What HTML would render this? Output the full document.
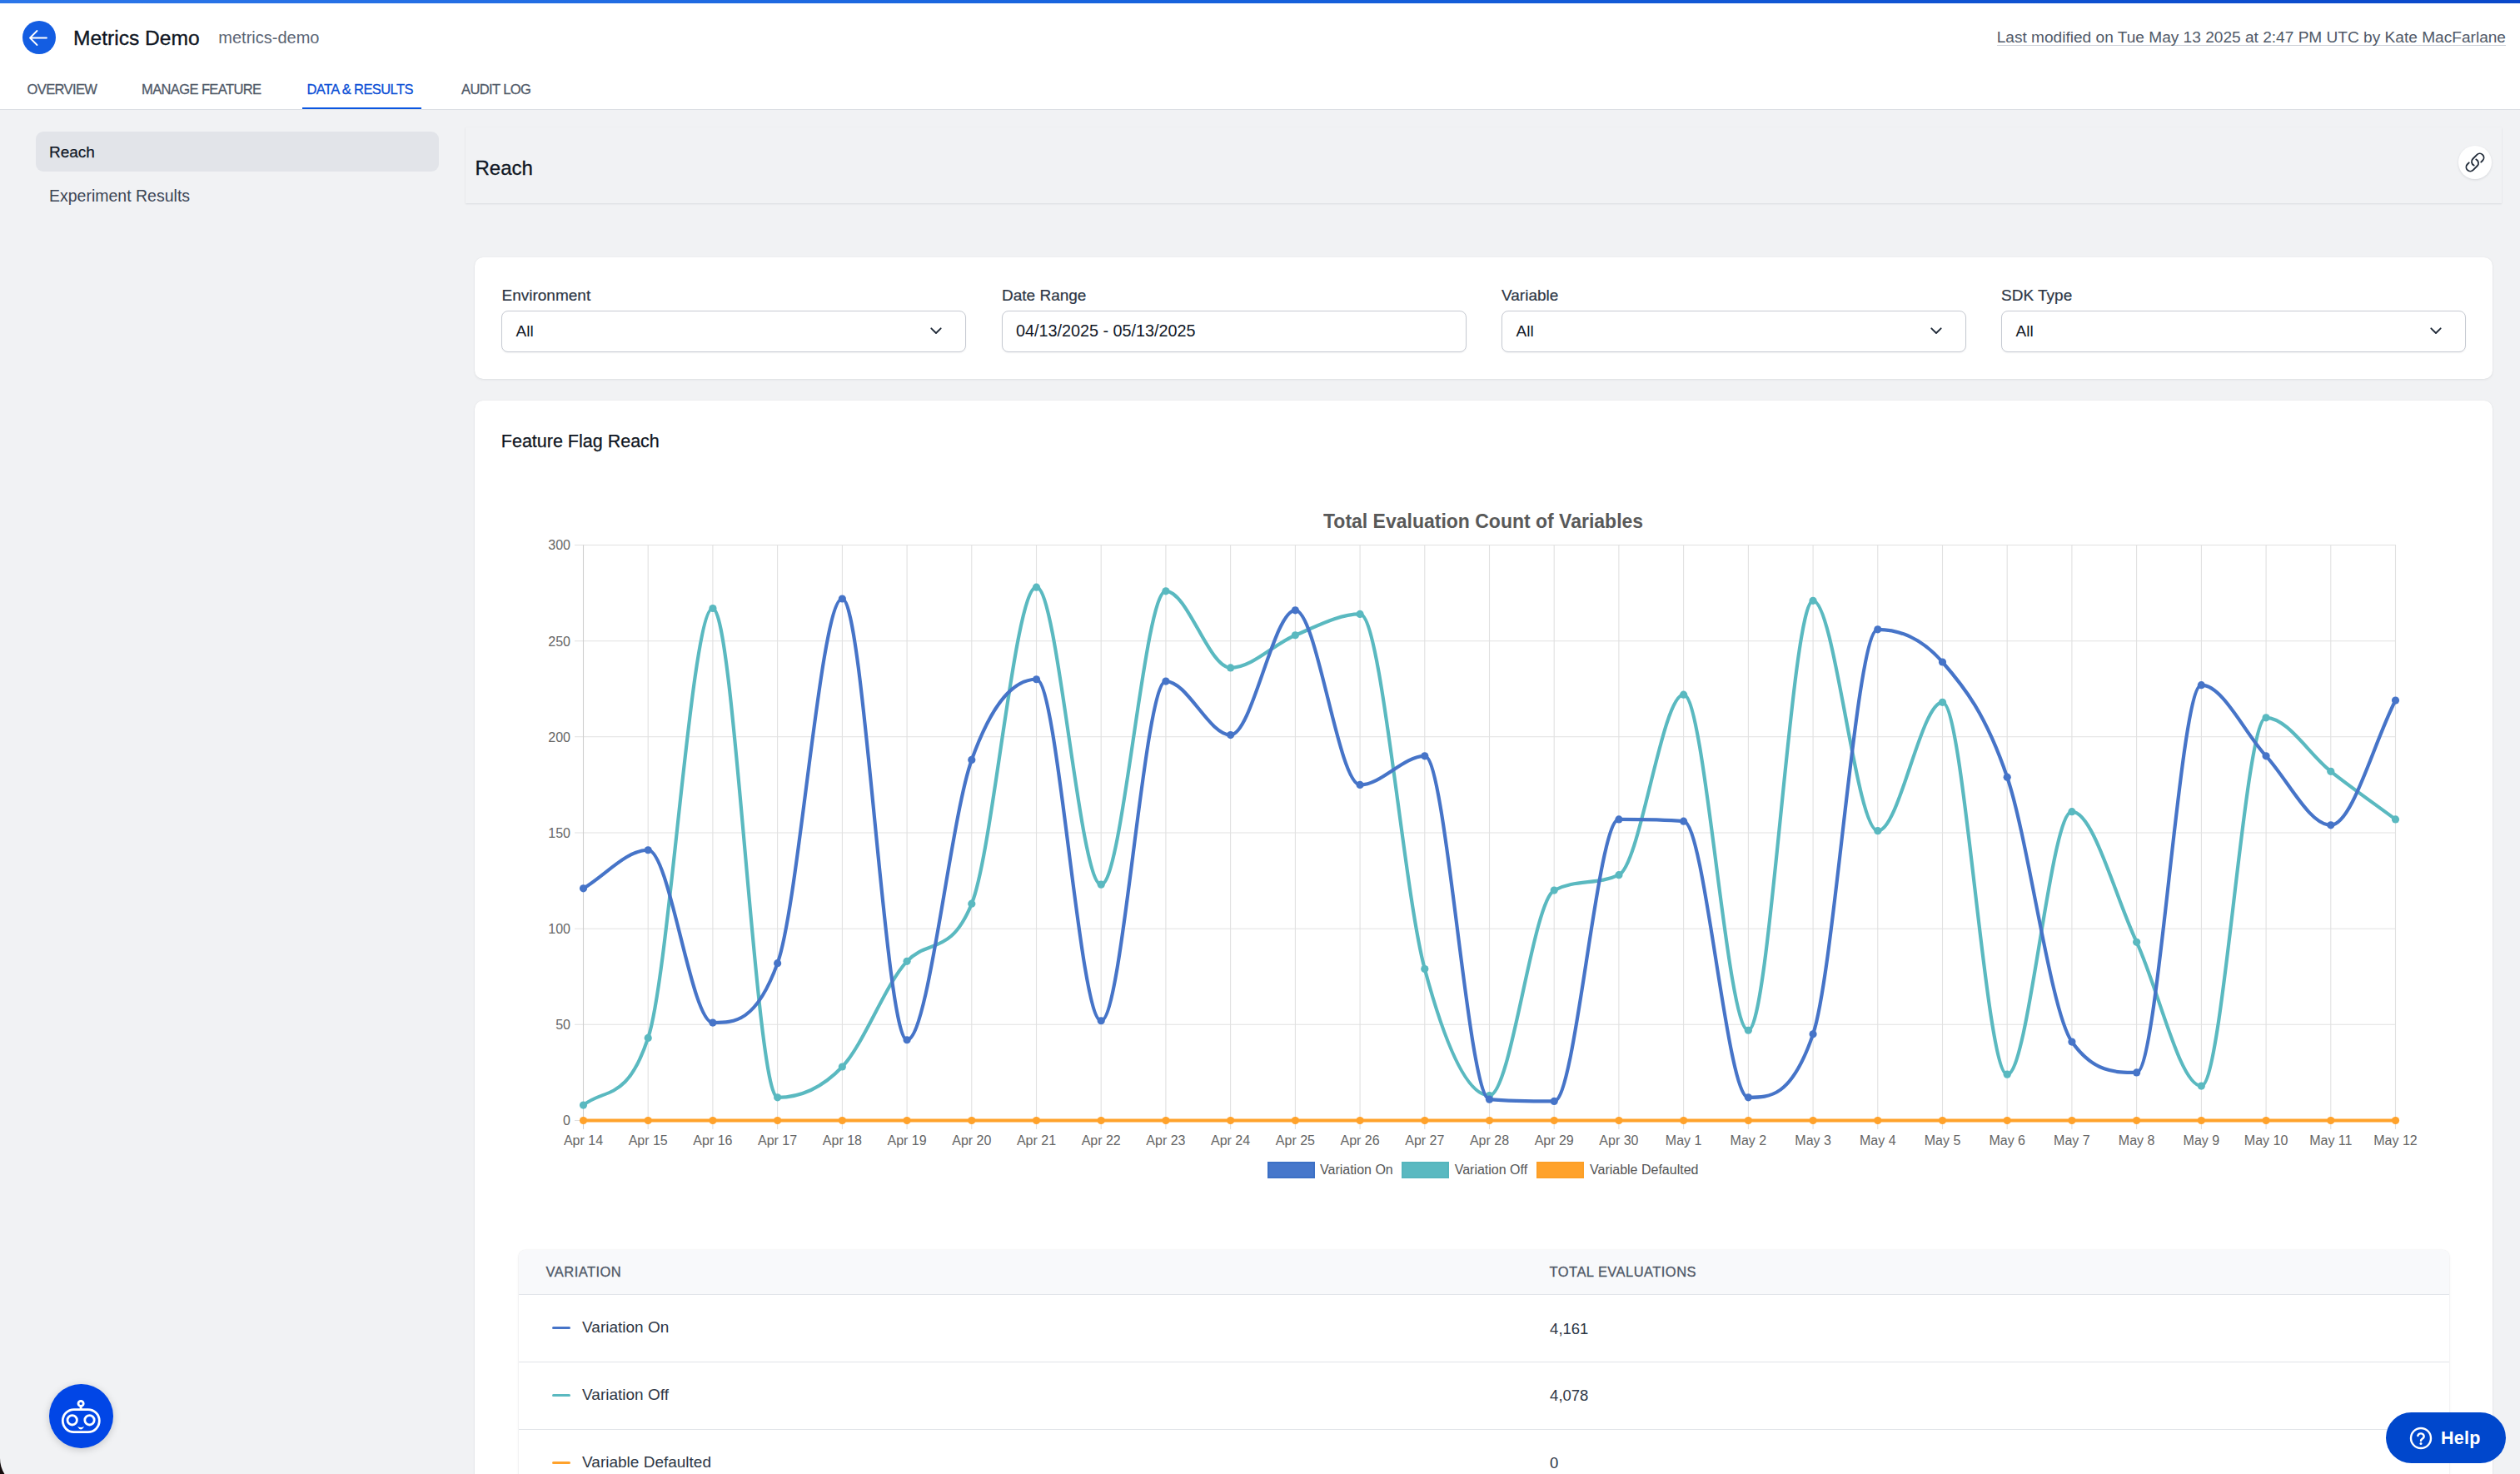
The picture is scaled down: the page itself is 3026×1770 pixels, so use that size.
<!DOCTYPE html>
<html><head><meta charset="utf-8"><title>Metrics Demo - Data &amp; Results</title>
<style>
*{box-sizing:border-box;margin:0;padding:0}
html,body{width:3026px;height:1770px;overflow:hidden}
body{position:relative;background:#f1f2f4;font-family:"Liberation Sans",sans-serif;color:#111827}
.a{position:absolute}
.t{position:absolute;line-height:1;white-space:nowrap}
#hdr{position:absolute;left:0;top:0;width:3026px;height:132px;background:#fff;border-bottom:1px solid #dcdfe4}
#topbar{position:absolute;left:0;top:0;width:3026px;height:4px;background:linear-gradient(90deg,#2c76e9 0%,#1763dd 45%,#0a48ca 100%)}
#back{position:absolute;left:27px;top:25px;width:40px;height:40px;border-radius:50%;background:#135de2}
.tab{position:absolute;top:98.6px;font-size:16.5px;letter-spacing:-.6px;line-height:1;color:#4f5968;white-space:nowrap;-webkit-text-stroke:.3px #4f5968}
.tab.on{color:#0b4fd6;-webkit-text-stroke:.3px #0b4fd6}
#tabline{position:absolute;left:363px;top:129px;width:143px;height:2px;background:#0b56e0}
#navact{position:absolute;left:43px;top:158px;width:484px;height:48px;border-radius:9px;background:#e2e4e9}
#reachp{position:absolute;left:559px;top:153px;width:2445px;height:91px;background:#f1f2f4;box-shadow:0 1px 2px rgba(16,24,40,.09),0 0 1px rgba(16,24,40,.04)}
#linkbtn{position:absolute;left:2952px;top:175px;width:40px;height:40px;border-radius:50%;background:#fff;box-shadow:0 1px 3px rgba(16,24,40,.12)}
.card{position:absolute;background:#fff;border-radius:10px;box-shadow:0 1px 3px rgba(16,24,40,.08),0 0 1px rgba(16,24,40,.08)}
.lbl{position:absolute;top:345px;font-size:19px;line-height:1;color:#2d3645;white-space:nowrap;-webkit-text-stroke:.2px #2d3645}
.sel{position:absolute;top:373px;width:558px;height:50px;border:1px solid #c6cad2;border-radius:8px;background:#fff;box-shadow:0 1px 2px rgba(16,24,40,.05)}
.sel .v{position:absolute;left:16.5px;top:14px;font-size:19px;line-height:1;color:#111827;white-space:nowrap}
.sel svg{position:absolute;right:26.7px;top:17.75px}
.chart{position:absolute;left:0;top:0;pointer-events:none}
#tbl{position:absolute;left:622.6px;top:1501px;width:2318px;height:300px;border-radius:8px 8px 0 0;background:#fff;overflow:hidden;box-shadow:0 1px 3px rgba(16,24,40,.10),0 0 1px rgba(16,24,40,.12)}
#thead{position:absolute;left:0;top:0;width:100%;height:54px;background:#f8f9fb;border-bottom:1px solid #e1e4e9}
.th{position:absolute;top:18.3px;font-size:16.5px;letter-spacing:.45px;line-height:1;color:#4e5766;white-space:nowrap;-webkit-text-stroke:.3px #4e5766}
.row{position:absolute;left:0;width:100%;height:81px;border-bottom:1px solid #e1e4e9}
.row .nm{position:absolute;left:76.5px;font-size:19px;line-height:1;color:#2d3645;white-space:nowrap}
.row .num{position:absolute;left:1238.5px;font-size:18.5px;line-height:1;color:#2d3645;white-space:nowrap}
.row .mk{position:absolute;left:40.3px;width:22px;height:3px;border-radius:1.5px}
#help{position:absolute;left:2865px;top:1696px;width:144px;height:61px;border-radius:30.5px;background:#0047cc}
#bot{position:absolute;left:59.3px;top:1662px;width:76.6px;height:76.6px;border-radius:50%;background:#0146e6;box-shadow:0 2px 10px rgba(0,0,0,.18)}
</style></head>
<body>
<div id="hdr">
  <div id="topbar"></div>
  <div id="back"><svg width="40" height="40" viewBox="0 0 40 40"><path d="M29 20.5H9.5M17.5 12L9 20.5L17.5 29" fill="none" stroke="#fff" stroke-width="1.8" stroke-linecap="round" stroke-linejoin="round"/></svg></div>
  <div class="t" style="left:88px;top:34.3px;font-size:24.6px;color:#0f1623;-webkit-text-stroke:.35px #0f1623">Metrics Demo</div>
  <div class="t" style="left:262.3px;top:35px;font-size:20px;color:#5b6575">metrics-demo</div>
  <div class="t" id="lastmod" style="right:17px;top:35px;font-size:19.1px;color:#4f5968;border-bottom:1px solid #cdd1d8;padding-bottom:0">Last modified on Tue May 13 2025 at 2:47 PM UTC by Kate MacFarlane</div>
  <div class="tab" style="left:32.5px">OVERVIEW</div>
  <div class="tab" style="left:170px">MANAGE FEATURE</div>
  <div class="tab on" style="left:368.5px">DATA &amp; RESULTS</div>
  <div class="tab" style="left:554px">AUDIT LOG</div>
  <div id="tabline"></div>
</div>

<div id="navact"></div>
<div class="t" style="left:59px;top:173.1px;font-size:19px;color:#111827;-webkit-text-stroke:.25px #111827">Reach</div>
<div class="t" style="left:59px;top:225.8px;font-size:19.5px;color:#3c4555">Experiment Results</div>

<div id="reachp"></div>
<div class="t" style="left:570.5px;top:189.7px;font-size:24px;color:#0f1623;-webkit-text-stroke:.3px #0f1623">Reach</div>
<div id="linkbtn"><svg class="a" style="left:7px;top:6.8px" width="26" height="26" viewBox="0 0 24 24"><path d="M13.19 8.688a4.5 4.5 0 0 1 1.242 7.244l-4.5 4.5a4.5 4.5 0 0 1-6.364-6.364l1.757-1.757m13.35-.622 1.757-1.757a4.5 4.5 0 0 0-6.364-6.364l-4.5 4.5a4.5 4.5 0 0 0 1.242 7.244" fill="none" stroke="#222c3a" stroke-width="1.7" stroke-linecap="round" stroke-linejoin="round"/></svg></div>

<div class="card" style="left:570px;top:309px;width:2423px;height:146px"></div>
<div class="lbl" style="left:602.5px">Environment</div>
<div class="lbl" style="left:1203px">Date Range</div>
<div class="lbl" style="left:1803px">Variable</div>
<div class="lbl" style="left:2403px">SDK Type</div>
<div class="sel" style="left:602px"><div class="v">All</div><svg width="16" height="11" viewBox="0 0 16 11"><path d="M2.3 2.3L8 8L13.7 2.3" fill="none" stroke="#1f2937" stroke-width="1.85" stroke-linecap="round" stroke-linejoin="round"/></svg></div>
<div class="sel" style="left:1202.5px"><div class="v" style="font-size:19.8px;top:14.3px">04/13/2025 - 05/13/2025</div></div>
<div class="sel" style="left:1803px"><div class="v">All</div><svg width="16" height="11" viewBox="0 0 16 11"><path d="M2.3 2.3L8 8L13.7 2.3" fill="none" stroke="#1f2937" stroke-width="1.85" stroke-linecap="round" stroke-linejoin="round"/></svg></div>
<div class="sel" style="left:2403px"><div class="v">All</div><svg width="16" height="11" viewBox="0 0 16 11"><path d="M2.3 2.3L8 8L13.7 2.3" fill="none" stroke="#1f2937" stroke-width="1.85" stroke-linecap="round" stroke-linejoin="round"/></svg></div>

<div class="card" style="left:570px;top:481px;width:2423px;height:1400px"></div>
<div class="t" style="left:601.8px;top:519.8px;font-size:21.5px;color:#0f1623;-webkit-text-stroke:.25px #0f1623">Feature Flag Reach</div>
<div class="t" style="left:1588.8px;top:613.7px;font-size:24px;font-weight:bold;color:#595959;transform:scaleX(.958);transform-origin:0 0">Total Evaluation Count of Variables</div>

<svg class="chart" width="3026" height="1770" viewBox="0 0 3026 1770">
<g><line x1="690" y1="1345.5" x2="2877.0" y2="1345.5" stroke="#e1e1e1" stroke-width="1.1"/><line x1="690" y1="1230.3" x2="2877.0" y2="1230.3" stroke="#e1e1e1" stroke-width="1.1"/><line x1="690" y1="1115.2" x2="2877.0" y2="1115.2" stroke="#e1e1e1" stroke-width="1.1"/><line x1="690" y1="1000.0" x2="2877.0" y2="1000.0" stroke="#e1e1e1" stroke-width="1.1"/><line x1="690" y1="884.8" x2="2877.0" y2="884.8" stroke="#e1e1e1" stroke-width="1.1"/><line x1="690" y1="769.7" x2="2877.0" y2="769.7" stroke="#e1e1e1" stroke-width="1.1"/><line x1="690" y1="654.5" x2="2877.0" y2="654.5" stroke="#e1e1e1" stroke-width="1.1"/><line x1="700.5" y1="654.5" x2="700.5" y2="1356" stroke="#cfcfcf" stroke-width="1.1"/><line x1="778.2" y1="654.5" x2="778.2" y2="1356" stroke="#e1e1e1" stroke-width="1.1"/><line x1="855.9" y1="654.5" x2="855.9" y2="1356" stroke="#e1e1e1" stroke-width="1.1"/><line x1="933.6" y1="654.5" x2="933.6" y2="1356" stroke="#e1e1e1" stroke-width="1.1"/><line x1="1011.4" y1="654.5" x2="1011.4" y2="1356" stroke="#e1e1e1" stroke-width="1.1"/><line x1="1089.1" y1="654.5" x2="1089.1" y2="1356" stroke="#e1e1e1" stroke-width="1.1"/><line x1="1166.8" y1="654.5" x2="1166.8" y2="1356" stroke="#e1e1e1" stroke-width="1.1"/><line x1="1244.5" y1="654.5" x2="1244.5" y2="1356" stroke="#e1e1e1" stroke-width="1.1"/><line x1="1322.2" y1="654.5" x2="1322.2" y2="1356" stroke="#e1e1e1" stroke-width="1.1"/><line x1="1399.9" y1="654.5" x2="1399.9" y2="1356" stroke="#e1e1e1" stroke-width="1.1"/><line x1="1477.6" y1="654.5" x2="1477.6" y2="1356" stroke="#e1e1e1" stroke-width="1.1"/><line x1="1555.4" y1="654.5" x2="1555.4" y2="1356" stroke="#e1e1e1" stroke-width="1.1"/><line x1="1633.1" y1="654.5" x2="1633.1" y2="1356" stroke="#e1e1e1" stroke-width="1.1"/><line x1="1710.8" y1="654.5" x2="1710.8" y2="1356" stroke="#e1e1e1" stroke-width="1.1"/><line x1="1788.5" y1="654.5" x2="1788.5" y2="1356" stroke="#e1e1e1" stroke-width="1.1"/><line x1="1866.2" y1="654.5" x2="1866.2" y2="1356" stroke="#e1e1e1" stroke-width="1.1"/><line x1="1943.9" y1="654.5" x2="1943.9" y2="1356" stroke="#e1e1e1" stroke-width="1.1"/><line x1="2021.6" y1="654.5" x2="2021.6" y2="1356" stroke="#e1e1e1" stroke-width="1.1"/><line x1="2099.4" y1="654.5" x2="2099.4" y2="1356" stroke="#e1e1e1" stroke-width="1.1"/><line x1="2177.1" y1="654.5" x2="2177.1" y2="1356" stroke="#e1e1e1" stroke-width="1.1"/><line x1="2254.8" y1="654.5" x2="2254.8" y2="1356" stroke="#e1e1e1" stroke-width="1.1"/><line x1="2332.5" y1="654.5" x2="2332.5" y2="1356" stroke="#e1e1e1" stroke-width="1.1"/><line x1="2410.2" y1="654.5" x2="2410.2" y2="1356" stroke="#e1e1e1" stroke-width="1.1"/><line x1="2487.9" y1="654.5" x2="2487.9" y2="1356" stroke="#e1e1e1" stroke-width="1.1"/><line x1="2565.6" y1="654.5" x2="2565.6" y2="1356" stroke="#e1e1e1" stroke-width="1.1"/><line x1="2643.4" y1="654.5" x2="2643.4" y2="1356" stroke="#e1e1e1" stroke-width="1.1"/><line x1="2721.1" y1="654.5" x2="2721.1" y2="1356" stroke="#e1e1e1" stroke-width="1.1"/><line x1="2798.8" y1="654.5" x2="2798.8" y2="1356" stroke="#e1e1e1" stroke-width="1.1"/><line x1="2876.5" y1="654.5" x2="2876.5" y2="1356" stroke="#e1e1e1" stroke-width="1.1"/></g>
<g class="ticks" fill="#666" font-family="Liberation Sans" font-size="16"><text x="685" y="1351.3" text-anchor="end">0</text><text x="685" y="1236.1" text-anchor="end">50</text><text x="685" y="1121.0" text-anchor="end">100</text><text x="685" y="1005.8" text-anchor="end">150</text><text x="685" y="890.6" text-anchor="end">200</text><text x="685" y="775.5" text-anchor="end">250</text><text x="685" y="660.3" text-anchor="end">300</text><text x="700.5" y="1375" text-anchor="middle">Apr 14</text><text x="778.2" y="1375" text-anchor="middle">Apr 15</text><text x="855.9" y="1375" text-anchor="middle">Apr 16</text><text x="933.6" y="1375" text-anchor="middle">Apr 17</text><text x="1011.4" y="1375" text-anchor="middle">Apr 18</text><text x="1089.1" y="1375" text-anchor="middle">Apr 19</text><text x="1166.8" y="1375" text-anchor="middle">Apr 20</text><text x="1244.5" y="1375" text-anchor="middle">Apr 21</text><text x="1322.2" y="1375" text-anchor="middle">Apr 22</text><text x="1399.9" y="1375" text-anchor="middle">Apr 23</text><text x="1477.6" y="1375" text-anchor="middle">Apr 24</text><text x="1555.4" y="1375" text-anchor="middle">Apr 25</text><text x="1633.1" y="1375" text-anchor="middle">Apr 26</text><text x="1710.8" y="1375" text-anchor="middle">Apr 27</text><text x="1788.5" y="1375" text-anchor="middle">Apr 28</text><text x="1866.2" y="1375" text-anchor="middle">Apr 29</text><text x="1943.9" y="1375" text-anchor="middle">Apr 30</text><text x="2021.6" y="1375" text-anchor="middle">May 1</text><text x="2099.4" y="1375" text-anchor="middle">May 2</text><text x="2177.1" y="1375" text-anchor="middle">May 3</text><text x="2254.8" y="1375" text-anchor="middle">May 4</text><text x="2332.5" y="1375" text-anchor="middle">May 5</text><text x="2410.2" y="1375" text-anchor="middle">May 6</text><text x="2487.9" y="1375" text-anchor="middle">May 7</text><text x="2565.6" y="1375" text-anchor="middle">May 8</text><text x="2643.4" y="1375" text-anchor="middle">May 9</text><text x="2721.1" y="1375" text-anchor="middle">May 10</text><text x="2798.8" y="1375" text-anchor="middle">May 11</text><text x="2876.5" y="1375" text-anchor="middle">May 12</text></g>
<path d="M700.50,1345.50 C726.40,1345.50 752.31,1345.50 778.21,1345.50 C804.12,1345.50 830.02,1345.50 855.93,1345.50 C881.83,1345.50 907.74,1345.50 933.64,1345.50 C959.55,1345.50 985.45,1345.50 1011.36,1345.50 C1037.26,1345.50 1063.17,1345.50 1089.07,1345.50 C1114.98,1345.50 1140.88,1345.50 1166.79,1345.50 C1192.69,1345.50 1218.60,1345.50 1244.50,1345.50 C1270.40,1345.50 1296.31,1345.50 1322.21,1345.50 C1348.12,1345.50 1374.02,1345.50 1399.93,1345.50 C1425.83,1345.50 1451.74,1345.50 1477.64,1345.50 C1503.55,1345.50 1529.45,1345.50 1555.36,1345.50 C1581.26,1345.50 1607.17,1345.50 1633.07,1345.50 C1658.98,1345.50 1684.88,1345.50 1710.79,1345.50 C1736.69,1345.50 1762.60,1345.50 1788.50,1345.50 C1814.40,1345.50 1840.31,1345.50 1866.21,1345.50 C1892.12,1345.50 1918.02,1345.50 1943.93,1345.50 C1969.83,1345.50 1995.74,1345.50 2021.64,1345.50 C2047.55,1345.50 2073.45,1345.50 2099.36,1345.50 C2125.26,1345.50 2151.17,1345.50 2177.07,1345.50 C2202.98,1345.50 2228.88,1345.50 2254.79,1345.50 C2280.69,1345.50 2306.60,1345.50 2332.50,1345.50 C2358.40,1345.50 2384.31,1345.50 2410.21,1345.50 C2436.12,1345.50 2462.02,1345.50 2487.93,1345.50 C2513.83,1345.50 2539.74,1345.50 2565.64,1345.50 C2591.55,1345.50 2617.45,1345.50 2643.36,1345.50 C2669.26,1345.50 2695.17,1345.50 2721.07,1345.50 C2746.98,1345.50 2772.88,1345.50 2798.79,1345.50 C2824.69,1345.50 2850.60,1345.50 2876.50,1345.50" fill="none" stroke="#ffa22b" stroke-width="4.2" stroke-linejoin="round"/>
<g fill="#ffa22b"><circle cx="700.50" cy="1345.50" r="4.6"/><circle cx="778.21" cy="1345.50" r="4.6"/><circle cx="855.93" cy="1345.50" r="4.6"/><circle cx="933.64" cy="1345.50" r="4.6"/><circle cx="1011.36" cy="1345.50" r="4.6"/><circle cx="1089.07" cy="1345.50" r="4.6"/><circle cx="1166.79" cy="1345.50" r="4.6"/><circle cx="1244.50" cy="1345.50" r="4.6"/><circle cx="1322.21" cy="1345.50" r="4.6"/><circle cx="1399.93" cy="1345.50" r="4.6"/><circle cx="1477.64" cy="1345.50" r="4.6"/><circle cx="1555.36" cy="1345.50" r="4.6"/><circle cx="1633.07" cy="1345.50" r="4.6"/><circle cx="1710.79" cy="1345.50" r="4.6"/><circle cx="1788.50" cy="1345.50" r="4.6"/><circle cx="1866.21" cy="1345.50" r="4.6"/><circle cx="1943.93" cy="1345.50" r="4.6"/><circle cx="2021.64" cy="1345.50" r="4.6"/><circle cx="2099.36" cy="1345.50" r="4.6"/><circle cx="2177.07" cy="1345.50" r="4.6"/><circle cx="2254.79" cy="1345.50" r="4.6"/><circle cx="2332.50" cy="1345.50" r="4.6"/><circle cx="2410.21" cy="1345.50" r="4.6"/><circle cx="2487.93" cy="1345.50" r="4.6"/><circle cx="2565.64" cy="1345.50" r="4.6"/><circle cx="2643.36" cy="1345.50" r="4.6"/><circle cx="2721.07" cy="1345.50" r="4.6"/><circle cx="2798.79" cy="1345.50" r="4.6"/><circle cx="2876.50" cy="1345.50" r="4.6"/></g>
<path d="M700.50,1327.07 C726.40,1306.04 752.31,1324.28 778.21,1246.46 C804.12,1168.63 830.02,730.51 855.93,730.51 C881.83,730.51 907.74,1317.86 933.64,1317.86 C959.55,1317.86 985.45,1308.26 1011.36,1281.01 C1037.26,1253.75 1063.17,1181.93 1089.07,1154.32 C1114.98,1126.71 1140.88,1148.57 1166.79,1085.22 C1192.69,1021.88 1218.60,705.17 1244.50,705.17 C1270.40,705.17 1296.31,1062.19 1322.21,1062.19 C1348.12,1062.19 1374.02,709.78 1399.93,709.78 C1425.83,709.78 1451.74,801.91 1477.64,801.91 C1503.55,801.91 1529.45,773.51 1555.36,762.76 C1581.26,752.01 1607.17,737.42 1633.07,737.42 C1658.98,737.42 1684.88,1067.18 1710.79,1163.54 C1736.69,1259.89 1762.60,1315.56 1788.50,1315.56 C1814.40,1315.56 1840.31,1082.89 1866.21,1069.10 C1892.12,1055.31 1918.02,1062.90 1943.93,1050.67 C1969.83,1038.45 1995.74,834.16 2021.64,834.16 C2047.55,834.16 2073.45,1237.24 2099.36,1237.24 C2125.26,1237.24 2151.17,721.30 2177.07,721.30 C2202.98,721.30 2228.88,997.70 2254.79,997.70 C2280.69,997.70 2306.60,843.37 2332.50,843.37 C2358.40,843.37 2384.31,1290.22 2410.21,1290.22 C2436.12,1290.22 2462.02,974.66 2487.93,974.66 C2513.83,974.66 2539.74,1076.39 2565.64,1131.29 C2591.55,1186.19 2617.45,1304.04 2643.36,1304.04 C2669.26,1304.04 2695.17,861.80 2721.07,861.80 C2746.98,861.80 2772.88,905.95 2798.79,926.29 C2824.69,946.64 2850.60,964.68 2876.50,983.88" fill="none" stroke="#5ab9c0" stroke-width="4.2" stroke-linejoin="round"/>
<g fill="#5ab9c0"><circle cx="700.50" cy="1327.07" r="4.6"/><circle cx="778.21" cy="1246.46" r="4.6"/><circle cx="855.93" cy="730.51" r="4.6"/><circle cx="933.64" cy="1317.86" r="4.6"/><circle cx="1011.36" cy="1281.01" r="4.6"/><circle cx="1089.07" cy="1154.32" r="4.6"/><circle cx="1166.79" cy="1085.22" r="4.6"/><circle cx="1244.50" cy="705.17" r="4.6"/><circle cx="1322.21" cy="1062.19" r="4.6"/><circle cx="1399.93" cy="709.78" r="4.6"/><circle cx="1477.64" cy="801.91" r="4.6"/><circle cx="1555.36" cy="762.76" r="4.6"/><circle cx="1633.07" cy="737.42" r="4.6"/><circle cx="1710.79" cy="1163.54" r="4.6"/><circle cx="1788.50" cy="1315.56" r="4.6"/><circle cx="1866.21" cy="1069.10" r="4.6"/><circle cx="1943.93" cy="1050.67" r="4.6"/><circle cx="2021.64" cy="834.16" r="4.6"/><circle cx="2099.36" cy="1237.24" r="4.6"/><circle cx="2177.07" cy="721.30" r="4.6"/><circle cx="2254.79" cy="997.70" r="4.6"/><circle cx="2332.50" cy="843.37" r="4.6"/><circle cx="2410.21" cy="1290.22" r="4.6"/><circle cx="2487.93" cy="974.66" r="4.6"/><circle cx="2565.64" cy="1131.29" r="4.6"/><circle cx="2643.36" cy="1304.04" r="4.6"/><circle cx="2721.07" cy="861.80" r="4.6"/><circle cx="2798.79" cy="926.29" r="4.6"/><circle cx="2876.50" cy="983.88" r="4.6"/></g>
<path d="M700.50,1066.80 C726.40,1051.44 752.31,1020.73 778.21,1020.73 C804.12,1020.73 830.02,1228.03 855.93,1228.03 C881.83,1228.03 907.74,1228.03 933.64,1156.63 C959.55,1085.22 985.45,718.99 1011.36,718.99 C1037.26,718.99 1063.17,1248.76 1089.07,1248.76 C1114.98,1248.76 1140.88,984.64 1166.79,912.47 C1192.69,840.30 1218.60,815.73 1244.50,815.73 C1270.40,815.73 1296.31,1225.73 1322.21,1225.73 C1348.12,1225.73 1374.02,818.04 1399.93,818.04 C1425.83,818.04 1451.74,882.53 1477.64,882.53 C1503.55,882.53 1529.45,732.81 1555.36,732.81 C1581.26,732.81 1607.17,942.42 1633.07,942.42 C1658.98,942.42 1684.88,907.87 1710.79,907.87 C1736.69,907.87 1762.60,1317.86 1788.50,1320.16 C1814.40,1322.47 1840.31,1322.47 1866.21,1322.47 C1892.12,1322.47 1918.02,983.88 1943.93,983.88 C1969.83,983.88 1995.74,983.88 2021.64,986.18 C2047.55,988.48 2073.45,1317.86 2099.36,1317.86 C2125.26,1317.86 2151.17,1317.86 2177.07,1241.85 C2202.98,1165.84 2228.88,755.85 2254.79,755.85 C2280.69,755.85 2306.60,765.44 2332.50,795.00 C2358.40,824.56 2384.31,857.19 2410.21,933.20 C2436.12,1009.21 2462.02,1214.21 2487.93,1251.06 C2513.83,1287.92 2539.74,1287.92 2565.64,1287.92 C2591.55,1287.92 2617.45,822.64 2643.36,822.64 C2669.26,822.64 2695.17,879.84 2721.07,907.87 C2746.98,935.89 2772.88,990.79 2798.79,990.79 C2824.69,990.79 2850.60,890.98 2876.50,841.07" fill="none" stroke="#4674c8" stroke-width="4.2" stroke-linejoin="round"/>
<g fill="#4674c8"><circle cx="700.50" cy="1066.80" r="4.6"/><circle cx="778.21" cy="1020.73" r="4.6"/><circle cx="855.93" cy="1228.03" r="4.6"/><circle cx="933.64" cy="1156.63" r="4.6"/><circle cx="1011.36" cy="718.99" r="4.6"/><circle cx="1089.07" cy="1248.76" r="4.6"/><circle cx="1166.79" cy="912.47" r="4.6"/><circle cx="1244.50" cy="815.73" r="4.6"/><circle cx="1322.21" cy="1225.73" r="4.6"/><circle cx="1399.93" cy="818.04" r="4.6"/><circle cx="1477.64" cy="882.53" r="4.6"/><circle cx="1555.36" cy="732.81" r="4.6"/><circle cx="1633.07" cy="942.42" r="4.6"/><circle cx="1710.79" cy="907.87" r="4.6"/><circle cx="1788.50" cy="1320.16" r="4.6"/><circle cx="1866.21" cy="1322.47" r="4.6"/><circle cx="1943.93" cy="983.88" r="4.6"/><circle cx="2021.64" cy="986.18" r="4.6"/><circle cx="2099.36" cy="1317.86" r="4.6"/><circle cx="2177.07" cy="1241.85" r="4.6"/><circle cx="2254.79" cy="755.85" r="4.6"/><circle cx="2332.50" cy="795.00" r="4.6"/><circle cx="2410.21" cy="933.20" r="4.6"/><circle cx="2487.93" cy="1251.06" r="4.6"/><circle cx="2565.64" cy="1287.92" r="4.6"/><circle cx="2643.36" cy="822.64" r="4.6"/><circle cx="2721.07" cy="907.87" r="4.6"/><circle cx="2798.79" cy="990.79" r="4.6"/><circle cx="2876.50" cy="841.07" r="4.6"/></g>
</svg>

<div class="a" style="left:1521.5px;top:1394.5px;width:57.3px;height:20.2px;background:#4677cb;border:2px solid #3c70c5"></div>
<div class="t" style="left:1585px;top:1396.5px;font-size:16px;color:#555">Variation On</div>
<div class="a" style="left:1683px;top:1394.5px;width:57.3px;height:20.2px;background:#5ab9c1;border:2px solid #55b5bd"></div>
<div class="t" style="left:1746.7px;top:1396.5px;font-size:16px;color:#555">Variation Off</div>
<div class="a" style="left:1845px;top:1394.5px;width:57.3px;height:20.2px;background:#ffa22b;border:2px solid #fc9f27"></div>
<div class="t" style="left:1909px;top:1396.5px;font-size:16px;color:#555">Variable Defaulted</div>

<div id="tbl">
  <div id="thead">
    <div class="th" style="left:33px">VARIATION</div>
    <div class="th" style="left:1238px">TOTAL EVALUATIONS</div>
  </div>
  <div class="row" style="top:54px"><div class="mk" style="top:38.3px;background:#4674c8"></div><div class="nm" style="top:29.2px">Variation On</div><div class="num" style="top:31.7px">4,161</div></div>
  <div class="row" style="top:135px"><div class="mk" style="top:38.3px;background:#5ab9c0"></div><div class="nm" style="top:29.2px">Variation Off</div><div class="num" style="top:31.4px">4,078</div></div>
  <div class="row" style="top:216px;border-bottom:none"><div class="mk" style="top:38.3px;background:#ffa22b"></div><div class="nm" style="top:29.2px">Variable Defaulted</div><div class="num" style="top:31.4px">0</div></div>
</div>

<div id="help">
  <svg class="a" style="left:28px;top:16.5px" width="28" height="28" viewBox="0 0 28 28"><circle cx="14" cy="14" r="12" fill="none" stroke="#fff" stroke-width="2.4"/><path d="M10.3 11a3.8 3.8 0 0 1 7.4 1c0 2.5-3.7 3-3.7 5" fill="none" stroke="#fff" stroke-width="2.4" stroke-linecap="round"/><circle cx="14" cy="20.6" r="1.5" fill="#fff"/></svg>
  <div class="t" style="left:66px;top:21.3px;font-size:21.5px;font-weight:bold;color:#fff;letter-spacing:.3px">Help</div>
</div>

<div id="bot">
  <svg width="77" height="77" viewBox="0 0 77 77"><g fill="none" stroke="#fff" stroke-width="2.8"><rect x="16.3" y="30.6" width="44" height="27" rx="13.5"/><circle cx="27.7" cy="43.3" r="5.7"/><circle cx="48.5" cy="43.3" r="5.7"/><circle cx="38.1" cy="23.4" r="3.1"/><path d="M38.1 26.5v4"/></g><path d="M34 50.9Q38.1 57.9 42.2 50.9Q38.1 53 34 50.9Z" fill="#fff"/></svg>
</div>
<svg class="a" style="left:0;top:1740px" width="20" height="30" viewBox="0 0 20 30"><path d="M0 11A36 36 0 0 0 5.42 30L0 30Z" fill="#140c0c"/></svg>
</body></html>
